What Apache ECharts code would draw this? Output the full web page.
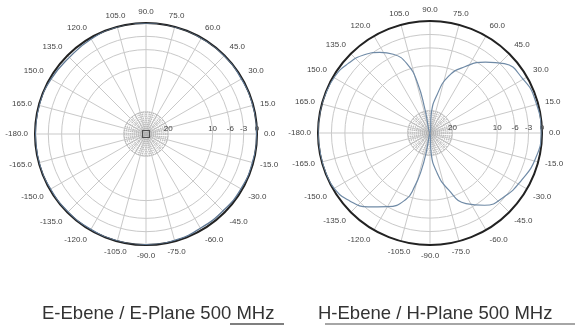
<!DOCTYPE html>
<html>
<head>
<meta charset="utf-8">
<script src="https://cdn.jsdelivr.net/npm/echarts@6/dist/echarts.min.js"></script>
<style>
  html, body { margin: 0; padding: 0; background: #fff; }
  #chart { width: 575px; height: 330px; }
</style>
</head>
<body>
<div id="chart"></div>
<script>
// radial scale in dB, rings and labels
const ringValues = [-25, -20, -10, -6, -3, 0]
const ringLabels = [-20, -10, -6, -3, 0]

// E-plane 500 MHz (nearly omnidirectional)
const eAngles = [-180, -165, -150, -135, -120, -105, -90, -75, -60, -45, -30, -15, 0, 15, 30, 45, 60, 75, 90, 105, 120, 135, 150, 165, 180]
const eValues = [-0.1, -0.1, -0.2, -0.2, -0.2, -0.1, -0.1, -0.2, -0.5, -0.5, -0.3, -0.2, -0.1, -0.1, -0.2, -0.1, -0.1, 0, 0, 0, -0.3, -0.6, -0.3, -0.1, -0.1]

// H-plane 500 MHz (figure eight)
const hAngles = [-180, -170, -160, -150, -140, -130, -120, -110, -106, -103, -101, -95, -87, -80, -72, -63, -53, -40, -27, -14, 0, 18, 30, 43, 52, 62, 72, 80, 86, 93, 102, 104, 108, 115, 122, 130, 140, 149, 160, 170, 180]
const hValues = [0, -0.1, -0.1, -0.3, -1.5, -3.5, -6.0, -9.2, -12.6, -16.6, -21, -25, -21, -16, -11.7, -7.3, -4.8, -3.1, -2.0, -0.8, -0.2, -0.4, -1.0, -2.3, -4.9, -8.2, -11.7, -16.6, -20.5, -25, -19.6, -13.5, -9.0, -5.6, -3.8, -2.2, -1.0, -0.3, -0.1, 0, 0]

const titles = ['E-Ebene / E-Plane 500 MHz', 'H-Ebene / H-Plane 500 MHz']

const chart = echarts.init(document.getElementById('chart'))

const gridColor = '#c9c9c9'
const centers = [[146, 134], [430, 133]]
const radii = [111, 112]

function outerPolar(i) {
    return { center: centers[i], radius: radii[i] }
}
function innerPolar(i) {
    return { center: centers[i], radius: 22 }
}

const polar = [outerPolar(0), outerPolar(1), innerPolar(0), innerPolar(1)]

const angleAxis = []
const radiusAxis = []
for (let i = 0; i < 2; i++) {
    angleAxis.push({
        polarIndex: i,
        type: 'value',
        min: 0,
        max: 360,
        interval: 15,
        startAngle: 0,
        clockwise: false,
        axisLine: { lineStyle: { color: '#222', width: 2 } },
        axisTick: { show: false },
        axisLabel: {
            margin: 7,
            fontSize: 8,
            color: '#444',
            fontFamily: 'Liberation Sans',
            // degrees shown from -180 to 165
            formatter: (v) => v === 360 ? '' : (v >= 180 ? v - 360 : v).toFixed(1)
        },
        splitLine: { lineStyle: { color: gridColor, width: 1 } }
    })
    radiusAxis.push({
        polarIndex: i,
        type: 'value',
        min: -25,
        max: 0,
        axisLine: { show: false },
        axisTick: { show: false, customValues: ringValues },
        axisLabel: {
            customValues: ringLabels,
            fontSize: 8,
            color: '#444',
            margin: 1,
            fontFamily: 'Liberation Sans',
            formatter: (v) => v === -20 ? '20' : v === -10 ? '10' : String(v)
        },
        splitLine: { lineStyle: { color: gridColor, width: 1 } }
    })
}
// dense dotted grid round the centre
for (let i = 0; i < 2; i++) {
    angleAxis.push({
        polarIndex: i + 2,
        type: 'value',
        min: 0,
        max: 360,
        interval: 10,
        startAngle: 0,
        axisLine: { show: false },
        axisTick: { show: false },
        axisLabel: { show: false },
        splitLine: { lineStyle: { color: '#b0b0b0', width: 1, type: 'dotted' } }
    })
    radiusAxis.push({
        polarIndex: i + 2,
        type: 'value',
        min: 0,
        max: 22,
        interval: 2,
        axisLine: { show: false },
        axisTick: { show: false },
        axisLabel: { show: false },
        splitLine: { lineStyle: { color: '#b0b0b0', width: 1, type: 'dotted' } }
    })
}

const titleStyle = { fontSize: 18.5, fontWeight: 'normal', color: '#333', fontFamily: 'Liberation Sans' }

const option = {
    animation: false,
    backgroundColor: '#fff',
    polar: polar,
    angleAxis: angleAxis,
    radiusAxis: radiusAxis,
    title: [
        { text: titles[0], left: 37, top: 299, textStyle: titleStyle },
        { text: titles[1], left: 313, top: 299, textStyle: titleStyle }
    ],
    graphic: [
        { type: 'line', shape: { x1: 230, y1: 324, x2: 284, y2: 324 }, style: { stroke: '#555', lineWidth: 1.5 } },
        { type: 'line', shape: { x1: 325, y1: 324, x2: 575, y2: 324 }, style: { stroke: '#888', lineWidth: 1.5 } }
    ],
    series: [
        {
            type: 'line',
            coordinateSystem: 'polar',
            polarIndex: 0,
            smooth: true,
            symbol: 'none',
            lineStyle: { color: '#5f7894', width: 1.3 },
            data: eAngles.map((a, k) => [eValues[k], a])
        },
        {
            type: 'line',
            coordinateSystem: 'polar',
            polarIndex: 1,
            smooth: true,
            symbol: 'none',
            lineStyle: { color: '#6f8aa6', width: 1.2 },
            data: hAngles.map((a, k) => [hValues[k], a])
        },
        {
            type: 'scatter',
            coordinateSystem: 'polar',
            polarIndex: 0,
            symbol: 'rect',
            symbolSize: 7,
            itemStyle: { color: 'transparent', borderColor: '#333', borderWidth: 1.2 },
            data: [[-25, 0]]
        }
    ]
}

chart.setOption(option)
</script>
</body>
</html>
